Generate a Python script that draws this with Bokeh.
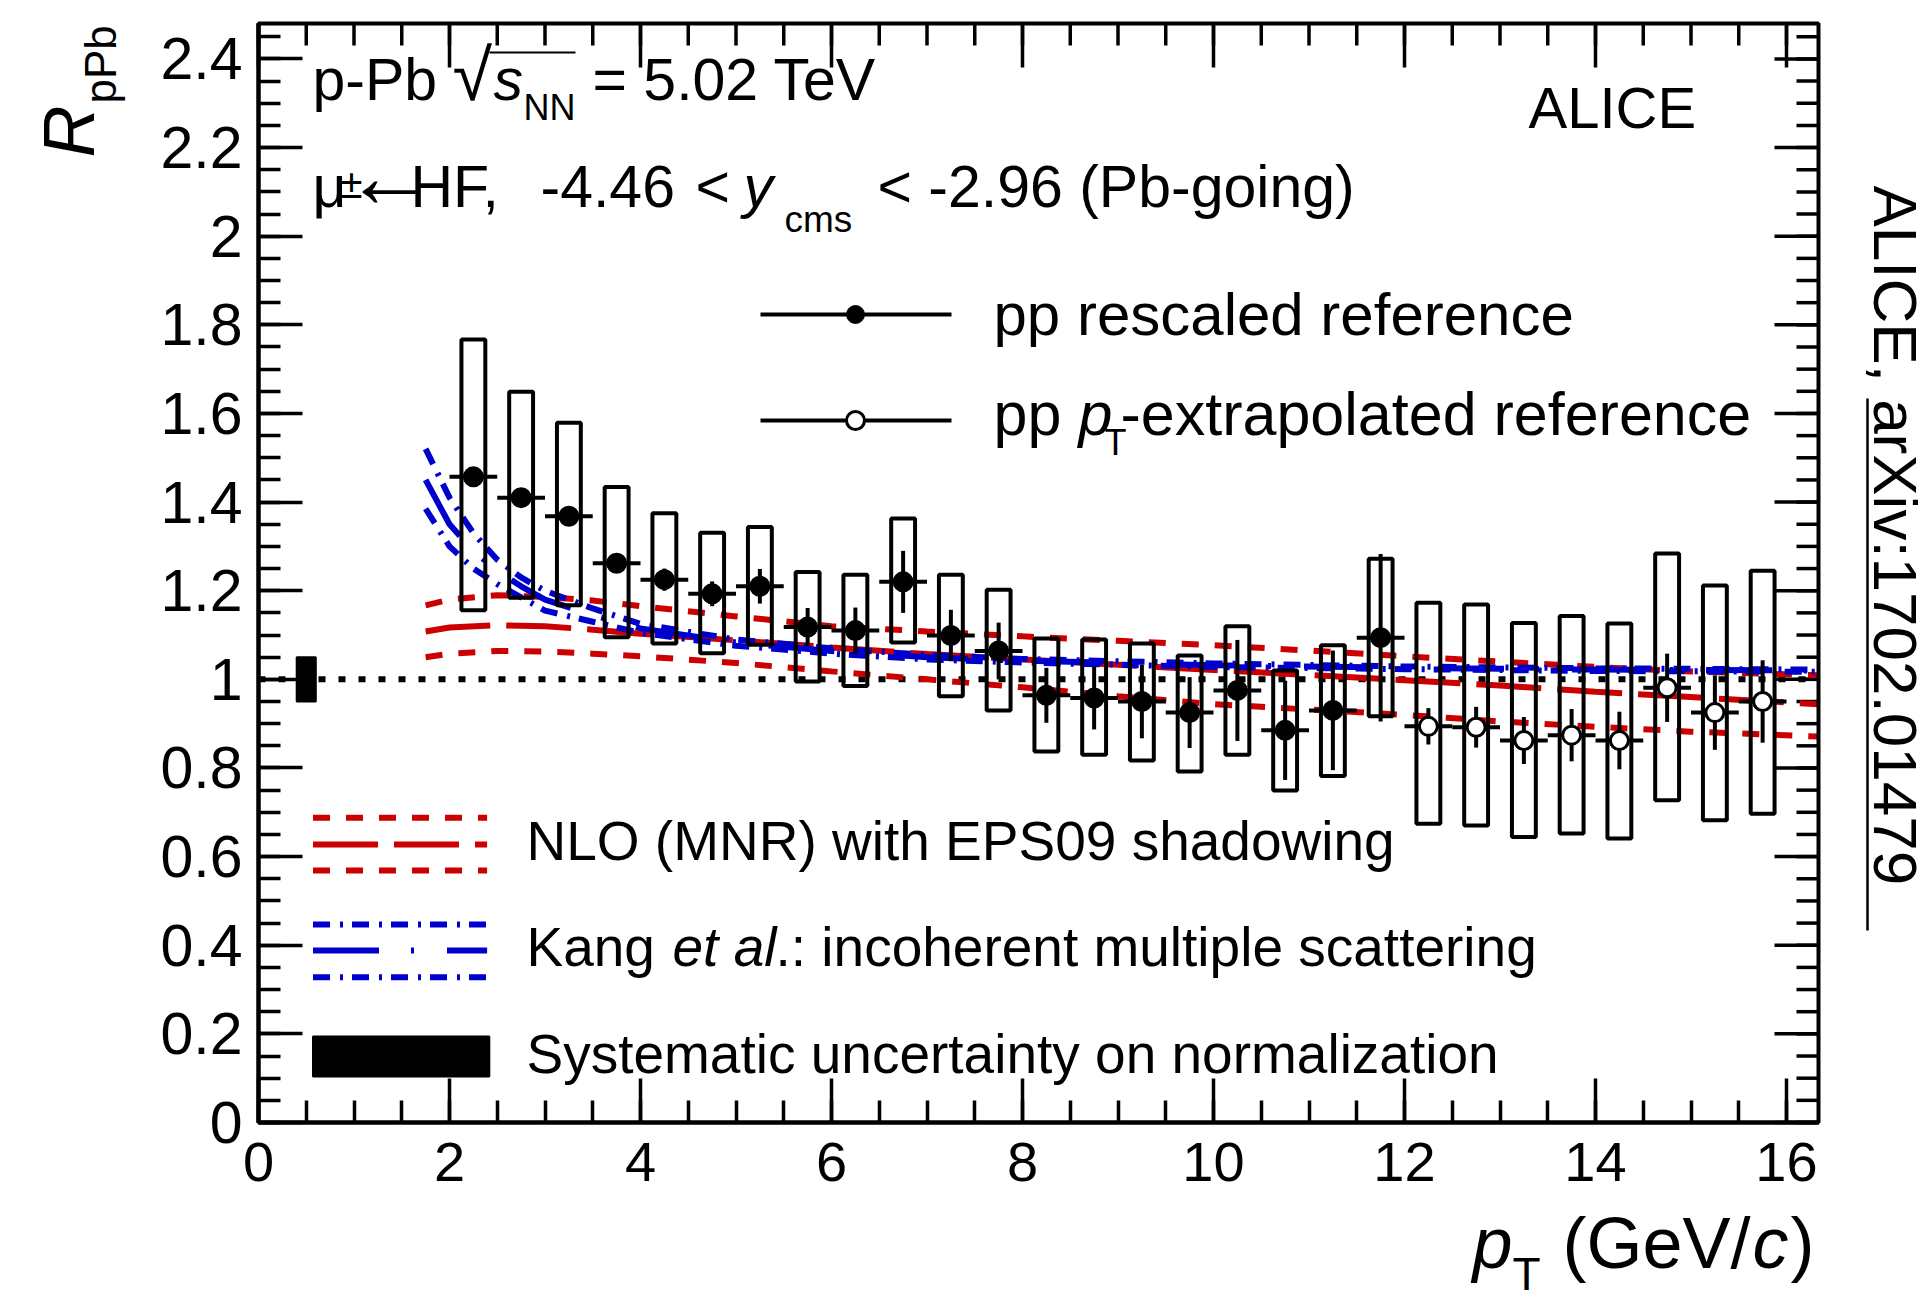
import numpy as np
from bokeh.plotting import figure
from bokeh.models import Range1d, FixedTicker, CustomJSTickFormatter
from bokeh.core.properties import value
from bokeh.embed import file_html
from bokeh.resources import INLINE

# ---------------- data ----------------
pt_rescaled = [2.25, 2.75, 3.25, 3.75, 4.25, 4.75, 5.25, 5.75, 6.25, 6.75,
               7.25, 7.75, 8.25, 8.75, 9.25, 9.75, 10.25, 10.75, 11.25, 11.75]
r_rescaled = [1.457, 1.410, 1.368, 1.262, 1.225, 1.193, 1.210, 1.118, 1.110, 1.220,
              1.099, 1.064, 0.964, 0.958, 0.950, 0.925, 0.975, 0.885, 0.930, 1.094]
stat_rescaled = [0.010, 0.012, 0.014, 0.018, 0.025, 0.028, 0.039, 0.043, 0.052, 0.070,
                 0.058, 0.064, 0.062, 0.071, 0.083, 0.080, 0.114, 0.112, 0.135, 0.189]
syst_lo_rescaled = [1.156, 1.184, 1.167, 1.095, 1.081, 1.059, 1.078, 0.995, 0.985, 1.083,
                    0.962, 0.930, 0.837, 0.830, 0.817, 0.792, 0.830, 0.749, 0.782, 0.917]
syst_hi_rescaled = [1.767, 1.649, 1.579, 1.434, 1.375, 1.331, 1.344, 1.242, 1.236, 1.363,
                    1.236, 1.202, 1.092, 1.090, 1.081, 1.054, 1.120, 1.020, 1.077, 1.272]

pt_extrap = [12.25, 12.75, 13.25, 13.75, 14.25, 14.75, 15.25, 15.75]
r_extrap = [0.894, 0.892, 0.862, 0.874, 0.862, 0.981, 0.925, 0.950]
stat_extrap = [0.041, 0.046, 0.053, 0.059, 0.065, 0.077, 0.084, 0.093]
syst_lo_extrap = [0.674, 0.670, 0.644, 0.652, 0.641, 0.727, 0.682, 0.697]
syst_hi_extrap = [1.173, 1.169, 1.127, 1.143, 1.126, 1.284, 1.212, 1.245]

bin_half_width = 0.25
norm_unc = 0.05

# NLO (MNR) with EPS09 shadowing
nlo_pt = [1.75, 2.0, 2.5, 3.0, 3.5, 4.0, 5.0, 6.0, 7.0, 8.0, 9.0, 10.0, 11.0, 12.0, 13.0, 14.0, 15.0, 16.335]
nlo_hi = [1.167, 1.180, 1.190, 1.186, 1.178, 1.165, 1.142, 1.120, 1.108, 1.097, 1.087, 1.077, 1.065, 1.052, 1.040, 1.028, 1.018, 1.009]
nlo_c = [1.108, 1.117, 1.122, 1.120, 1.112, 1.103, 1.088, 1.072, 1.057, 1.045, 1.033, 1.021, 1.010, 0.998, 0.986, 0.972, 0.960, 0.944]
nlo_lo = [1.050, 1.058, 1.064, 1.063, 1.058, 1.052, 1.037, 1.018, 1.000, 0.982, 0.962, 0.944, 0.932, 0.920, 0.905, 0.893, 0.882, 0.871]

# Kang et al.: incoherent multiple scattering
kang_pt = [1.75, 2.0, 2.25, 2.5, 2.75, 3.0, 3.5, 4.0, 5.0, 6.0, 7.0, 8.0, 10.0, 12.0, 14.0, 16.335]
kang_hi = [1.52, 1.41, 1.33, 1.27, 1.23, 1.20, 1.16, 1.125, 1.090, 1.070, 1.055, 1.046, 1.036, 1.029, 1.025, 1.022]
kang_c = [1.45, 1.35, 1.29, 1.245, 1.21, 1.18, 1.145, 1.115, 1.083, 1.064, 1.050, 1.042, 1.032, 1.026, 1.022, 1.020]
kang_lo = [1.385, 1.30, 1.25, 1.215, 1.185, 1.155, 1.13, 1.105, 1.076, 1.058, 1.045, 1.038, 1.028, 1.023, 1.019, 1.017]

x_major = [0, 2, 4, 6, 8, 10, 12, 14, 16]
x_minor = [0.5 * i for i in range(33)]
y_major = [0, 0.2, 0.4, 0.6, 0.8, 1.0, 1.2, 1.4, 1.6, 1.8, 2.0, 2.2, 2.4]
y_minor = [0.05 * i for i in range(50)]

# ---------------- layout constants ----------------
W, H = 1931, 1303
FL, FR, FT, FB = 258, 1818, 23, 1122      # pixel edges of the data frame
X0, X1 = 0.0, 16.335
Y0, Y1 = 0.0, 2.48
FONT = "Liberation Sans"
RED = "#cc0000"
BLUE = "#0000cc"
BASE_SHIFT = 0.35   # em offset of the renderer's alphabetic baseline

XPP = (X1 - X0) / (FR - FL)   # data units per pixel
YPP = (Y1 - Y0) / (FB - FT)


def dx(px):
    return X0 + (px - FL) * XPP


def dy(py):
    return Y0 + (FB - py) * YPP


p = figure(width=W, height=H, x_range=Range1d(dx(0), dx(W)), y_range=Range1d(dy(H), dy(0)),
           output_backend="svg", toolbar_location=None, title=None,
           min_border=0, min_border_left=0, min_border_right=0,
           min_border_top=0, min_border_bottom=0)
p.xgrid.visible = False
p.ygrid.visible = False
p.outline_line_color = None
p.background_fill_color = "white"
p.border_fill_color = "white"

fmt = CustomJSTickFormatter(code="return String(+tick.toFixed(2));")


def style_axis(ax, ticks, minors, loc, bounds, size):
    ax.fixed_location = loc
    ax.bounds = bounds
    ax.ticker = FixedTicker(ticks=ticks, minor_ticks=minors)
    ax.axis_line_width = 4
    ax.axis_line_color = "black"
    ax.major_tick_in = 44
    ax.major_tick_out = 0
    ax.minor_tick_in = 22
    ax.minor_tick_out = 0
    ax.major_tick_line_width = 3.5
    ax.minor_tick_line_width = 3.5
    ax.major_tick_line_color = "black"
    ax.minor_tick_line_color = "black"
    ax.formatter = fmt
    ax.major_label_text_font = FONT
    ax.major_label_text_font_size = f"{size}px"
    ax.major_label_text_color = "black"


style_axis(p.xaxis[0], x_major, x_minor, Y0, (X0, X1), 56)
p.xaxis[0].major_label_standoff = 20
style_axis(p.yaxis[0], y_major, y_minor, X0, (Y0, Y1), 59)
p.yaxis[0].major_label_standoff = 16

# mirrored ticks on the top and right edges of the frame
for ticks, length in [(x_major, 44), (x_minor, 22)]:
    p.segment(x0=ticks, x1=ticks, y0=[Y1] * len(ticks), y1=[Y1 - length * YPP] * len(ticks),
              line_color="black", line_width=3.5)
for ticks, length in [(y_major, 44), (y_minor, 22)]:
    p.segment(x0=[X1] * len(ticks), x1=[X1 - length * XPP] * len(ticks), y0=ticks, y1=ticks,
              line_color="black", line_width=3.5)

# reference line at 1
p.line([X0, X1], [1.0, 1.0], line_color="black", line_width=6, line_dash="7 13")
# normalisation uncertainty
p.quad(left=[0.5 - 0.1], right=[0.5 + 0.1], bottom=[1 - norm_unc], top=[1 + norm_unc],
       fill_color="black", line_color="black", line_width=2)

# models
p.line(nlo_pt, nlo_hi, line_color=RED, line_width=6, line_dash="17 16")
p.line(nlo_pt, nlo_lo, line_color=RED, line_width=6, line_dash="17 16")
p.line(nlo_pt, nlo_c, line_color=RED, line_width=6, line_dash="65 16")
p.line(kang_pt, kang_hi, line_color=BLUE, line_width=6, line_dash="17 10 3 9")
p.line(kang_pt, kang_lo, line_color=BLUE, line_width=6, line_dash="17 10 3 9")
p.line(kang_pt, kang_c, line_color=BLUE, line_width=6, line_dash="66 32 3 33")

# data
box_hw = 0.125
for pts, r, st, lo, hi, fill in [
        (pt_rescaled, r_rescaled, stat_rescaled, syst_lo_rescaled, syst_hi_rescaled, "black"),
        (pt_extrap, r_extrap, stat_extrap, syst_lo_extrap, syst_hi_extrap, "white")]:
    pts = np.array(pts); r = np.array(r); st = np.array(st)
    p.quad(left=pts - box_hw, right=pts + box_hw, bottom=lo, top=hi,
           fill_color=None, line_color="black", line_width=4)
    p.segment(x0=pts - bin_half_width, x1=pts + bin_half_width, y0=r, y1=r,
              line_color="black", line_width=4)
    p.segment(x0=pts, x1=pts, y0=r - st, y1=r + st, line_color="black", line_width=4)
    p.scatter(pts, r, marker="circle", size=18, fill_color=fill, line_color="black",
              line_width=3)

# frame
p.quad(left=[X0], right=[X1], bottom=[Y0], top=[Y1], fill_color=None,
       line_color="black", line_width=4)


# ---------------- text helper ----------------
def txt(px, py, s, size, style="normal", angle=0.0):
    sh = BASE_SHIFT * size
    if angle > 0:
        px -= sh
    elif angle < 0:
        px += sh
    else:
        py -= sh
    p.text(x=[dx(px)], y=[dy(py)], text=[s], text_font=value(FONT),
           text_font_size=value(f"{size}px"), text_font_style=style, angle=angle,
           text_color="black", text_baseline="alphabetic", text_align="left")


# header texts
txt(312, 100, "p-Pb", 59)
txt(452, 100, "√", 72)
p.segment(x0=[dx(489)], x1=[dx(575)], y0=[dy(52)], y1=[dy(52)], line_color="black", line_width=2)
txt(493, 100, "s", 59, "italic")
txt(523, 120, "NN", 36)
txt(592, 100, "= 5.02 TeV", 59)

txt(312, 207, "μ", 59)
txt(340, 197, "±", 40)
txt(344, 207, "←", 90)
txt(410, 207, "HF,", 59)
txt(540, 207, "-4.46", 59)
txt(695, 207, "<", 59)
txt(743, 207, "y", 59, "italic")
txt(784, 232, "cms", 37)
txt(877, 207, "< -2.96 (Pb-going)", 59)

txt(1528, 127, "ALICE", 58)

# data legend
p.line([dx(760), dx(951)], [dy(314), dy(314)], line_color="black", line_width=4)
p.scatter([dx(855)], [dy(314)], marker="circle", size=18, fill_color="black", line_color="black")
txt(993, 335, "pp rescaled reference", 60)
p.line([dx(760), dx(951)], [dy(420), dy(420)], line_color="black", line_width=4)
p.scatter([dx(855)], [dy(420)], marker="circle", size=18, fill_color="white", line_color="black",
          line_width=3)
txt(993, 435, "pp", 61)
txt(1078, 435, "p", 61, "italic")
txt(1104, 455, "T", 36)
txt(1120, 435, "-extrapolated reference", 61)

# model legend
lx0, lx1 = dx(312.5), dx(486.6)
p.line([lx0, lx1], [dy(817.3)] * 2, line_color=RED, line_width=6, line_dash="17 16")
p.line([lx0, lx1], [dy(844)] * 2, line_color=RED, line_width=6, line_dash="65 16")
p.line([lx0, lx1], [dy(870)] * 2, line_color=RED, line_width=6, line_dash="17 16")
p.line([lx0, lx1], [dy(924)] * 2, line_color=BLUE, line_width=6, line_dash="17 10 3 9")
p.line([lx0, lx1], [dy(950)] * 2, line_color=BLUE, line_width=6, line_dash="66 32 3 33")
p.line([lx0, lx1], [dy(976.7)] * 2, line_color=BLUE, line_width=6, line_dash="17 10 3 9")
p.quad(left=[dx(312.5)], right=[dx(488.8)], bottom=[dy(1076)], top=[dy(1036)],
       fill_color="black", line_color="black", line_width=2)
txt(526, 860, "NLO (MNR) with EPS09 shadowing", 55)
txt(526, 966, "Kang ", 55)
txt(672, 966, "et al", 55, "italic")
txt(775, 966, ".: incoherent multiple scattering", 55)
txt(526, 1073, "Systematic uncertainty on normalization", 55)

# axis titles
txt(1472, 1268, "p", 72, "italic")
txt(1512, 1290, "T", 46)
txt(1562, 1268, "(GeV/", 72)
txt(1752, 1268, "c", 72, "italic")
txt(1790, 1268, ")", 72)

txt(94, 157, "R", 72, "italic", angle=np.pi / 2)
txt(115, 103, "pPb", 44, angle=np.pi / 2)

# side reference
txt(1873, 185, "ALICE, arXiv:1702.01479", 62, angle=-np.pi / 2)
p.segment(x0=[dx(1867)], x1=[dx(1867)], y0=[dy(398)], y1=[dy(930)], line_color="black",
          line_width=2.5)

open("out.html", "w").write(file_html(p, INLINE))
